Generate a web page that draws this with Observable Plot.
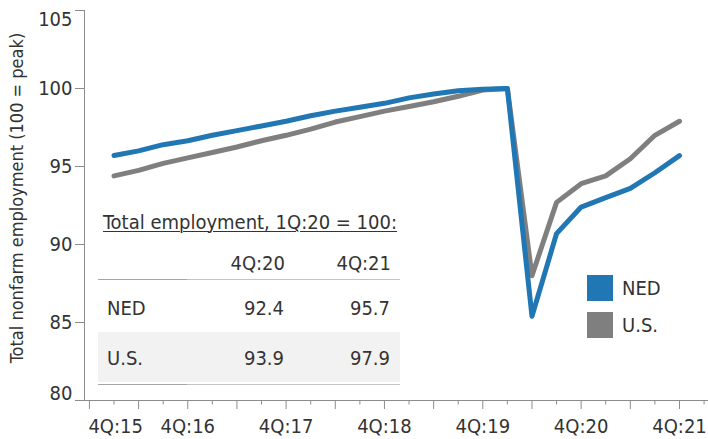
<!DOCTYPE html>
<html>
<head>
<meta charset="utf-8">
<script src="https://cdn.jsdelivr.net/npm/d3@7"></script>
<script src="https://cdn.jsdelivr.net/npm/@observablehq/plot@0.6"></script>
<style>
  html, body { margin: 0; padding: 0; background: #fff; }
  #wrap { position: relative; width: 708px; height: 439px; font-family: "DejaVu Sans Condensed", "DejaVu Sans", sans-serif; color: #333; }
  #wrap svg { position: absolute; left: 0; top: 0; }
  .abs { position: absolute; white-space: nowrap; line-height: 1; font-size: 20px; }
  .ylab { left: 17px; top: 198px; transform: translate(-50%, -50%) rotate(-90deg); font-size: 18px; }
  .ttitle { left: 103px; top: 212px; text-decoration: underline; text-underline-offset: 2px; text-decoration-thickness: 1px; }
  .r { text-align: right; }
  .hline { position: absolute; height: 1px; }
  .sw { position: absolute; width: 26px; height: 26px; }
</style>
</head>
<body>
<div id="wrap"></div>
<script>
// ---- data ----
const seriesNames = ["U.S.", "NED"];
const seriesColors = ["#7f7f7f", "#2077b4"];
// quarters 1Q:16 .. 4Q:21
const periods = ["1Q:16","2Q:16","3Q:16","4Q:16","1Q:17","2Q:17","3Q:17","4Q:17",
                 "1Q:18","2Q:18","3Q:18","4Q:18","1Q:19","2Q:19","3Q:19","4Q:19",
                 "1Q:20","2Q:20","3Q:20","4Q:20","1Q:21","2Q:21","3Q:21","4Q:21"];
const nedValues = [95.7, 96.0, 96.4, 96.65, 97.0, 97.3, 97.6, 97.9,
                   98.25, 98.55, 98.8, 99.05, 99.4, 99.65, 99.85, 99.95,
                   100, 85.4, 90.7, 92.4, 93.0, 93.6, 94.6, 95.7];
const usValues  = [94.4, 94.75, 95.2, 95.55, 95.9, 96.25, 96.65, 97.0,
                   97.4, 97.85, 98.2, 98.55, 98.85, 99.15, 99.5, 99.9,
                   100, 88.0, 92.7, 93.9, 94.4, 95.5, 97.0, 97.9];
const xTickLabels = ["4Q:15","4Q:16","4Q:17","4Q:18","4Q:19","4Q:20","4Q:21"];
const yTicks = [80, 85, 90, 95, 100, 105];
const tableTitle = "Total employment, 1Q:20 = 100:";
const tableCols = ["4Q:20", "4Q:21"];
const tableRows = ["NED", "U.S."];
const tableNED = ["92.4", "95.7"];
const tableUS = ["93.9", "97.9"];
const yLabel = "Total nonfarm employment (100 = peak)";

// quarter index: 4Q:15 = 0
const allQuarters = ["4Q:15", ...periods, "1Q:22"];
const qi = p => allQuarters.indexOf(p);

const data = [];
periods.forEach((p, i) => data.push({q: qi(p), v: usValues[i], s: "U.S."}));
periods.forEach((p, i) => data.push({q: qi(p), v: nedValues[i], s: "NED"}));

const majorTicks = d3.range(0, allQuarters.length).filter(i => i % 2 === 0);
const minorTicks = d3.range(0, allQuarters.length).filter(i => i % 2 === 1);
const firstLabel = xTickLabels[0];
const labelFor = i => (xTickLabels.includes(allQuarters[i]) && allQuarters[i] !== firstLabel) ? allQuarters[i] : "";

const xDomain = [-0.2, 25.18];
const yDomain = [80, 105];
const FONT = '"DejaVu Sans Condensed", "DejaVu Sans", sans-serif';
const yMid = yTicks.filter(t => t !== yDomain[0] && t !== yDomain[1]);

const chart = Plot.plot({
  width: 708, height: 439,
  marginLeft: 84, marginRight: 0, marginTop: 10, marginBottom: 39,
  x: {type: "linear", domain: xDomain},
  y: {domain: yDomain},
  color: {domain: seriesNames, range: seriesColors},
  style: {fontFamily: FONT, fontSize: "20px", color: "#333", background: "transparent"},
  marks: [
    Plot.axisY({ticks: yTicks, tickSize: 9, tickPadding: 3, stroke: "#8c8c8c", label: null, fontSize: 20,
                tickFormat: t => yMid.includes(t) ? String(t) : ""}),
    // end labels inset within the frame
    Plot.text([yDomain[1]], {x: xDomain[0], y: d => d, text: String, textAnchor: "end", lineAnchor: "top", dx: -12, dy: 1, fontSize: 20, fill: "#333"}),
    Plot.text([yDomain[0]], {x: xDomain[0], y: d => d, text: String, textAnchor: "end", lineAnchor: "bottom", dx: -12, dy: -1, fontSize: 20, fill: "#333"}),
    Plot.axisX({ticks: majorTicks, tickSize: 9, tickPadding: 9, tickFormat: labelFor, stroke: "#8c8c8c", label: null, fontSize: 20}),
    Plot.axisX({ticks: minorTicks, tickSize: 4.5, tickFormat: () => "", stroke: "#8c8c8c", label: null}),
    Plot.text([qi(firstLabel)], {x: d => d, frameAnchor: "bottom", text: d => allQuarters[d], textAnchor: "start", lineAnchor: "top", dy: 18, dx: -1, fontSize: 20, fill: "#333"}),
    Plot.ruleY([yDomain[0]], {stroke: "#8c8c8c"}),
    Plot.ruleX([xDomain[0]], {stroke: "#8c8c8c"}),
    Plot.line(data, {x: "q", y: "v", z: "s", stroke: "s", strokeWidth: 5, strokeLinejoin: "round", strokeLinecap: "round"})
  ]
});

const wrap = document.getElementById("wrap");
wrap.appendChild(chart);

function addDiv(cls, text, style) {
  const d = document.createElement("div");
  d.className = cls;
  if (text != null) d.textContent = text;
  Object.assign(d.style, style || {});
  wrap.appendChild(d);
  return d;
}

// y label
addDiv("abs ylab", yLabel);

// table
addDiv("abs ttitle", tableTitle);
addDiv("hline", null, {left: "98px", top: "332px", width: "302px", height: "50px", background: "#f2f2f2"});
addDiv("hline", null, {left: "98px", top: "279px", width: "302px", background: "#c4c4c4"});
addDiv("hline", null, {left: "98px", top: "279px", width: "89px", background: "#a6a6a6"});
addDiv("hline", null, {left: "98px", top: "384px", width: "302px", background: "#c4c4c4"});
addDiv("hline", null, {left: "98px", top: "384px", width: "89px", background: "#a6a6a6"});
const colRight = [285, 391];
const headerY = 262.5;
const rowY = [307.5, 357.5];
tableCols.forEach((c, i) => addDiv("abs r", c, {right: (708 - colRight[i]) + "px", top: (headerY - 10) + "px"}));
tableRows.forEach((r, j) => addDiv("abs", r, {left: "107px", top: (rowY[j] - 10) + "px"}));
[tableNED, tableUS].forEach((vals, j) => vals.forEach((v, i) =>
  addDiv("abs r", v, {right: (708 - colRight[i] + 1) + "px", top: (rowY[j] - 10) + "px"})));

// legend
const legendNames = ["NED", "U.S."];
const legendY = [275, 312];
legendNames.forEach((n, i) => {
  addDiv("sw", null, {left: "587px", top: legendY[i] + "px", background: seriesColors[seriesNames.indexOf(n)]});
  addDiv("abs", n, {left: "622px", top: (legendY[i] + 13 - 10) + "px"});
});
</script>
</body>
</html>
